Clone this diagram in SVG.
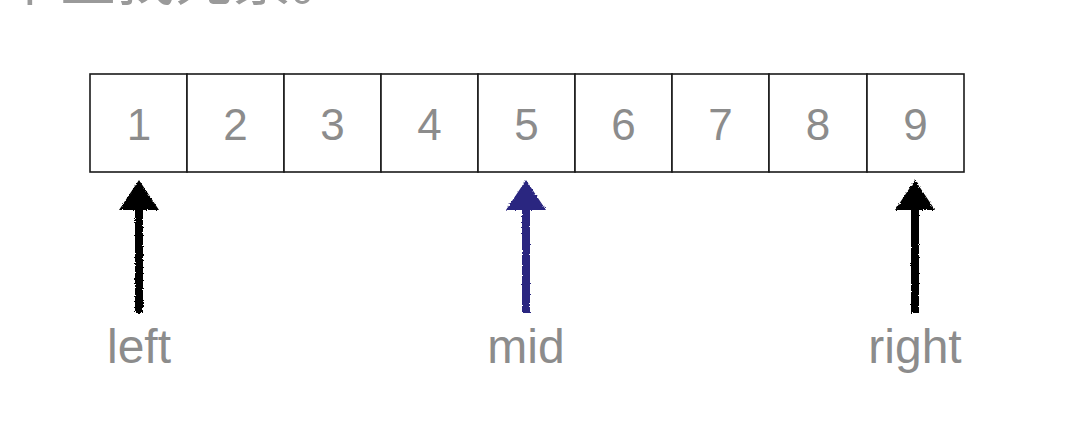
<svg xmlns="http://www.w3.org/2000/svg" width="1074" height="442" viewBox="0 0 1074 442">
<defs>
<style>
.cell{fill:#fff;stroke:#1a1a1a;stroke-width:1.6}
.num{font-family:"Liberation Sans",Arial,sans-serif;font-size:44px;fill:#8c8c8c;text-anchor:middle}
.lbl{font-family:"Liberation Sans",Arial,sans-serif;font-size:48px;fill:#8c8c8c;text-anchor:middle}
.title{font-family:"Noto Sans CJK SC","Noto Sans",sans-serif;font-size:58px;fill:#9a9a9a}
</style>
<filter id="rough" x="-20%" y="-10%" width="140%" height="120%">
<feTurbulence type="fractalNoise" baseFrequency="0.9" numOctaves="2" seed="3" result="n"/>
<feDisplacementMap in="SourceGraphic" in2="n" scale="3" xChannelSelector="R" yChannelSelector="G"/>
</filter>
<path id="arrow" d="M0,0 L20,30 L4,30 L4,133 L-4,133 L-4,30 L-20,30 Z"/>
</defs>
<rect width="1074" height="442" fill="#fff"/>
<text class="title" x="1" y="0">中查找元素。</text>
<g id="cell1"><rect class="cell" x="90" y="74" width="97" height="98"/><text class="num" x="139" y="140">1</text></g>
<g id="cell2"><rect class="cell" x="187" y="74" width="97" height="98"/><text class="num" x="235.5" y="140">2</text></g>
<g id="cell3"><rect class="cell" x="284" y="74" width="97" height="98"/><text class="num" x="332.5" y="140">3</text></g>
<g id="cell4"><rect class="cell" x="381" y="74" width="97" height="98"/><text class="num" x="429.5" y="140">4</text></g>
<g id="cell5"><rect class="cell" x="478" y="74" width="97" height="98"/><text class="num" x="526.5" y="140">5</text></g>
<g id="cell6"><rect class="cell" x="575" y="74" width="97" height="98"/><text class="num" x="623.5" y="140">6</text></g>
<g id="cell7"><rect class="cell" x="672" y="74" width="97" height="98"/><text class="num" x="720.5" y="140">7</text></g>
<g id="cell8"><rect class="cell" x="769" y="74" width="98" height="98"/><text class="num" x="818" y="140">8</text></g>
<g id="cell9"><rect class="cell" x="867" y="74" width="97" height="98"/><text class="num" x="915.5" y="140">9</text></g>
<g id="connectors" filter="url(#rough)">
<use href="#arrow" x="139" y="180" fill="#000"/>
<use href="#arrow" x="526" y="180" fill="#2c2880"/>
<use href="#arrow" x="915" y="180" fill="#000"/>
</g>
<g id="label-left"><text class="lbl" x="139" y="363">left</text></g>
<g id="label-mid"><text class="lbl" x="526" y="363">mid</text></g>
<g id="label-right"><text class="lbl" x="915" y="363">right</text></g>
</svg>
